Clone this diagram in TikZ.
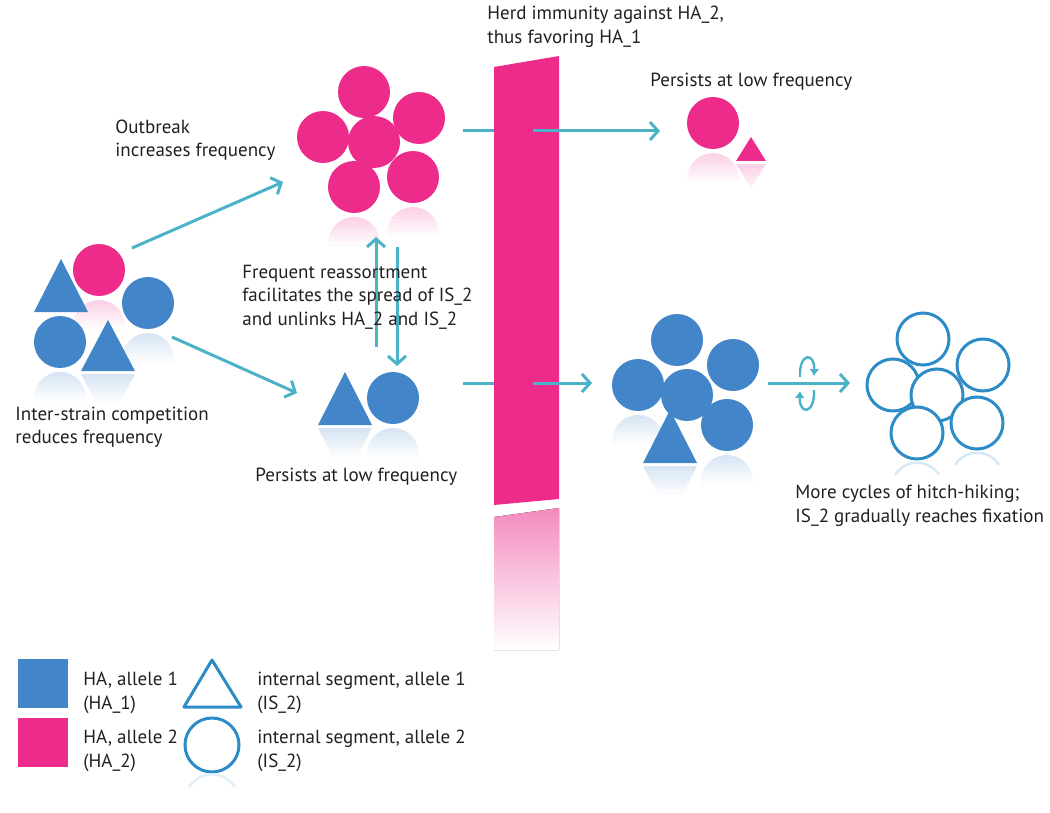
\documentclass[tikz,border=0pt]{standalone}
\usepackage{fontspec}
\setmainfont{PT Sans}
\usetikzlibrary{arrows.meta}
\definecolor{hapink}{RGB}{236,43,139}
\definecolor{hablue}{RGB}{66,133,200}
\definecolor{isring}{RGB}{45,140,200}
\definecolor{flow}{RGB}{75,178,200}
\definecolor{txt}{RGB}{35,31,32}
\tikzset{
  flowarrow/.style={draw=flow, line width=1.5pt, -{Straight Barb[length=4pt,width=9pt]}},
  flowline/.style={draw=flow, line width=1.5pt},
  lbl/.style={anchor=west, inner sep=0pt, text=txt, align=left, font=\fontsize{9.5}{11.75}\selectfont},
  ring/.style={draw=isring, line width=1.5pt, fill=white},
}
\def\disc[#1](#2,#3){\fill[#1] (#2,#3) circle (26);}
\def\tri[#1](#2,#3)(#4,#5){\fill[#1] (#2,#3) -- ++(-#4,#5) -- ++(2*#4,0) -- cycle;}
% faint mirror images, fading out in bands
\def\discrefl[#1](#2,#3){\begin{scope}\clip (#2,#3+56) circle (26);
	\foreach \k in {0,...,6}{\pgfmathtruncatemacro\tint{21-3*\k}\fill[#1!\tint] (#2-27,#3+30+4*\k) rectangle (#2+27,#3+34.5+4*\k);}
	\end{scope}}
\def\trirefl[#1](#2,#3)(#4,#5){\begin{scope}\clip (#2-#4,#3+#5+3) -- ++(2*#4,0) -- (#2,#3+2*#5+3) -- cycle;
	\foreach \k in {0,...,6}{\pgfmathtruncatemacro\tint{21-3*\k}\fill[#1!\tint] (#2-#4,#3+#5+3+4*\k) rectangle (#2+#4,#3+#5+7.5+4*\k);}
	\end{scope}}

\begin{document}
\begin{tikzpicture}[x=0.5pt, y=-0.5pt]
		%%%%% START %%%%%
		\useasboundingbox (0,0) rectangle (1050,813);
		
		% left mixed population
		\discrefl[hapink](99,270)
		\discrefl[hablue](148,303)
		\discrefl[hablue](60,342)
		\trirefl[hablue](108,320)(27,51)
		\disc[hapink](99,270)
		\tri[hablue](61,259)(27,53)
		\disc[hablue](148,303)
		\disc[hablue](60,342)
		\tri[hablue](108,320)(27,51)
		
		% outbreak cluster
		\discrefl[hapink](354,187)
		\discrefl[hapink](413,177)
		\foreach \cx/\cy in {364/92, 323/137, 419/118, 374/142, 354/187, 413/177}{
			\disc[hapink](\cx,\cy)
		}
		
		% low frequency, lower row
		\trirefl[hablue](345,372)(27,53)
		\discrefl[hablue](393,398)
		\tri[hablue](345,372)(27,53)
		\disc[hablue](393,398)
		
		% herd immunity barrier
		\coordinate (topin) at (463,131);
		\coordinate (topbar) at (494,131);
		\coordinate (topout) at (533,131);
		\coordinate (topend) at (660,131);
		\coordinate (lowin) at (463,383);
		\coordinate (lowbar) at (494,383);
		\coordinate (lowout) at (533,383);
		\coordinate (lowend) at (592,383);
		\draw[flowline] (topin) -- (topbar);
		\draw[flowline] (lowin) -- (lowbar);
		\fill[top color=hapink!55, bottom color=white] (494,517) -- (559,508) -- (559,650) -- (494,650) -- cycle;
		\fill[hapink] (494,67) -- (559,56) -- (559,499) -- (494,505) -- cycle;
		\draw[flowarrow] (topout) -- (topend);
		\draw[flowarrow] (lowout) -- (lowend);
		
		% survivors, top right
		\discrefl[hapink](713,123)
		\trirefl[hapink](751,137)(15,24)
		\disc[hapink](713,123)
		\tri[hapink](751,137)(15,24)
		
		% HA_1 cluster
		\discrefl[hablue](638,385)
		\discrefl[hablue](727,425)
		\trirefl[hablue](670,410)(27,53)
		\foreach \cx/\cy in {677/340, 638/385, 733/365, 687/395, 727/425}{
			\disc[hablue](\cx,\cy)
		}
		\tri[hablue](670,410)(27,53)
		
		% IS_2 fixed
		\draw[isring!20, line width=1.2pt] (917,489) ++(-22,-14) arc (212:328:26);
		\draw[isring!20, line width=1.2pt] (977,479) ++(-22,-14) arc (212:328:26);
		\foreach \cx/\cy in {923/339, 893/385, 983/365, 937/395, 977/423, 917/433}{
			\draw[ring] (\cx,\cy) circle (26);
		}
		
		% reassortment and cycles
		\coordinate (leftup) at (132,248);
		\coordinate (leftdown) at (172,337);
		\coordinate (outbreak) at (283,182);
		\coordinate (lowpop) at (297,393);
		\draw[flowarrow] (leftup) -- (outbreak);
		\draw[flowarrow] (leftdown) -- (lowpop);
		\draw[flowarrow] (376,347) -- (376,237);
		\draw[flowarrow] (397,247) -- (397,366);
		\coordinate (cycin) at (768,383);
		\coordinate (cycout) at (850,383);
		\draw[flowarrow] (cycin) -- (cycout);
		\draw[flow, line width=1.2pt, -{Latex[length=3.5pt,width=5pt]}] (800,377) .. controls (799,352) and (815,352) .. (814,376);
		\draw[flow, line width=1.2pt, -{Latex[length=3.5pt,width=5pt]}] (814,390) .. controls (815,415) and (799,415) .. (800,391);
		
		% labels
		\node[lbl] (herd) at (487,27) {Herd immunity against HA\_2,\\thus favoring HA\_1};
		\node[lbl] (outlbl) at (115,140) {Outbreak\\increases frequency};
		\node[lbl] (persisttop) at (650,82) {Persists at low frequency};
		\node[lbl] (reass) at (242,297) {Frequent reassortment\\facilitates the spread of IS\_2\\and unlinks HA\_2 and IS\_2};
		\node[lbl] (compet) at (15,427) {Inter-strain competition\\reduces frequency};
		\node[lbl] (persistlow) at (255,477) {Persists at low frequency};
		\node[lbl] (hitch) at (795,506) {More cycles of hitch-hiking;\\IS\_2 gradually reaches fixation};
		
		% legend
		\fill[hablue] (18,659) rectangle (68,708);
		\fill[hapink] (18,718) rectangle (68,767);
		\draw[isring, line width=1.5pt, line join=round] (212,660) -- (241,707) -- (184,707) -- cycle;
		\draw[isring, line width=1.5pt] (212,745) circle (27);
		\draw[isring!15, line width=1.2pt] (212,801) ++(-23,-14) arc (212:328:27);
		\node[lbl] (ha1) at (83,693) {HA, allele 1\\(HA\_1)};
		\node[lbl] (ha2) at (83,751) {HA, allele 2\\(HA\_2)};
		\node[lbl] (is1) at (257,693) {internal segment, allele 1\\(IS\_2)};
		\node[lbl] (is2) at (257,751) {internal segment, allele 2\\(IS\_2)};
		
		%%%%% END %%%%%
	\end{tikzpicture}
\end{document}
